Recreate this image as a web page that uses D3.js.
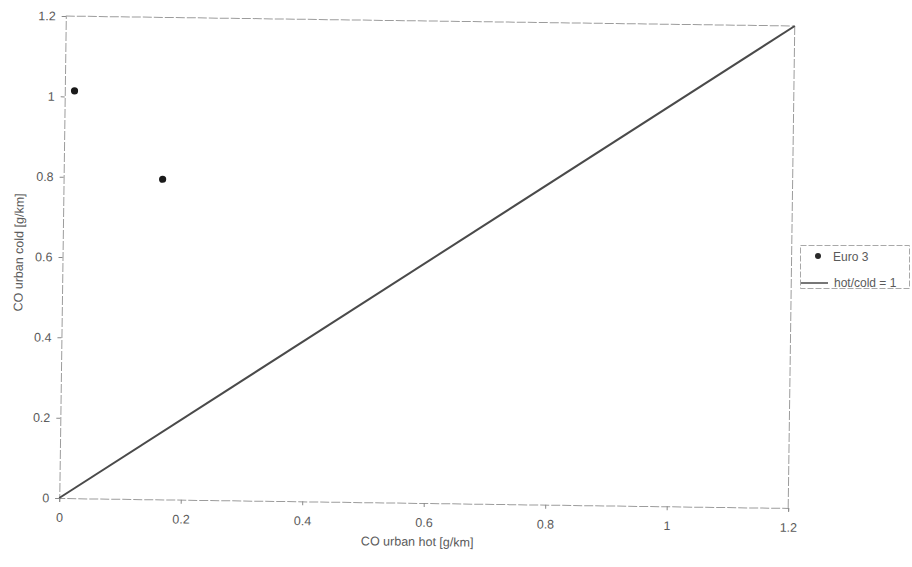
<!DOCTYPE html>
<html>
<head>
<meta charset="utf-8">
<script src="https://cdn.jsdelivr.net/npm/d3@7"></script>
<style>
  html, body { margin: 0; padding: 0; background: #fff; }
  svg { display: block; font-family: "Liberation Sans", Arial, sans-serif; }
</style>
</head>
<body>
<svg id="chart" width="912" height="567"></svg>
<script>
// ---- data ----
const seriesName = "Euro 3";
const euroX = [0.016, 0.163];
const euroY = [1.014, 0.797];
const lineName = "hot/cold = 1";
const lineX = [0, 1.2];
const lineY = [0, 1.2];
const xTicks = [0, 0.2, 0.4, 0.6, 0.8, 1, 1.2];
const xTickLabels = ["0", "0.2", "0.4", "0.6", "0.8", "1", "1.2"];
const yTicks = [0, 0.2, 0.4, 0.6, 0.8, 1, 1.2];
const yTickLabels = ["0", "0.2", "0.4", "0.6", "0.8", "1", "1.2"];
const xTitle = "CO urban hot [g/km]";
const yTitle = "CO urban cold [g/km]";

// ---- layout ----
const svg = d3.select("#chart");
const pLeft = 62.5, pRight = 791.5, pTop = 21, pBottom = 503;
const g = svg.append("g").attr("transform", "rotate(0.78, 427, 262)");

const x = d3.scaleLinear().domain([0, 1.2]).range([pLeft, pRight]);
const y = d3.scaleLinear().domain([0, 1.2]).range([pBottom, pTop]);

const axisColor = "#9c9c9c";
const labelColor = "#5a5a5a";

// plot frame (top and right borders)
g.append("line").attr("x1", pLeft).attr("x2", pRight).attr("y1", pTop).attr("y2", pTop)
  .attr("stroke", axisColor).attr("stroke-width", 1).attr("stroke-dasharray", "9,2");
g.append("line").attr("x1", pRight).attr("x2", pRight).attr("y1", pTop).attr("y2", pBottom)
  .attr("stroke", axisColor).attr("stroke-width", 1).attr("stroke-dasharray", "9,2");

// x axis
const xAxis = g.append("g").attr("transform", `translate(0,${pBottom})`)
  .call(d3.axisBottom(x).tickValues(xTicks).tickSize(4).tickPadding(11)
    .tickFormat((d, i) => xTickLabels[i]));
// y axis
const yAxis = g.append("g").attr("transform", `translate(${pLeft},0)`)
  .call(d3.axisLeft(y).tickValues(yTicks).tickSize(4).tickPadding(6)
    .tickFormat((d, i) => yTickLabels[i]));

[xAxis, yAxis].forEach(a => {
  a.select(".domain").attr("stroke", axisColor).attr("stroke-dasharray", "9,2");
  a.selectAll(".tick line").attr("stroke", "#888");
  a.selectAll(".tick text").attr("fill", labelColor).attr("font-size", "12.5px")
    .attr("font-family", "'Liberation Sans', Arial, sans-serif");
});

// titles
g.append("text").attr("x", 421).attr("y", 546).attr("text-anchor", "middle")
  .attr("font-size", "12.5px").attr("fill", labelColor).text(xTitle);
g.append("text").attr("transform", "translate(23,258) rotate(-90)").attr("text-anchor", "middle")
  .attr("font-size", "12.5px").attr("fill", labelColor).text(yTitle);

// line hot/cold = 1
const lineData = lineX.map((v, i) => [v, lineY[i]]);
g.append("path").datum(lineData)
  .attr("d", d3.line().x(d => x(d[0])).y(d => y(d[1])))
  .attr("fill", "none").attr("stroke", "#4a4a4a").attr("stroke-width", 2);

// points
const pts = euroX.map((v, i) => ({ x: v, y: euroY[i] }));
g.selectAll("circle.pt").data(pts).enter().append("circle")
  .attr("class", "pt")
  .attr("cx", d => x(d.x)).attr("cy", d => y(d.y)).attr("r", 3.6)
  .attr("fill", "#1a1a1a");

// legend
const lg = svg.append("g");
lg.append("rect").attr("x", 800.5).attr("y", 245.5).attr("width", 109).attr("height", 43)
  .attr("fill", "#fff").attr("stroke", "#a8a8a8").attr("stroke-dasharray", "6,2");
lg.append("circle").attr("cx", 818).attr("cy", 256).attr("r", 3).attr("fill", "#2a2a2a");
lg.append("text").attr("x", 833).attr("y", 261).attr("font-size", "12px").attr("fill", labelColor).text(seriesName);
lg.append("line").attr("x1", 801).attr("x2", 828).attr("y1", 283).attr("y2", 283)
  .attr("stroke", "#4a4a4a").attr("stroke-width", 1.5);
lg.append("text").attr("x", 834).attr("y", 287).attr("font-size", "12px").attr("fill", labelColor).text(lineName);
</script>
</body>
</html>
